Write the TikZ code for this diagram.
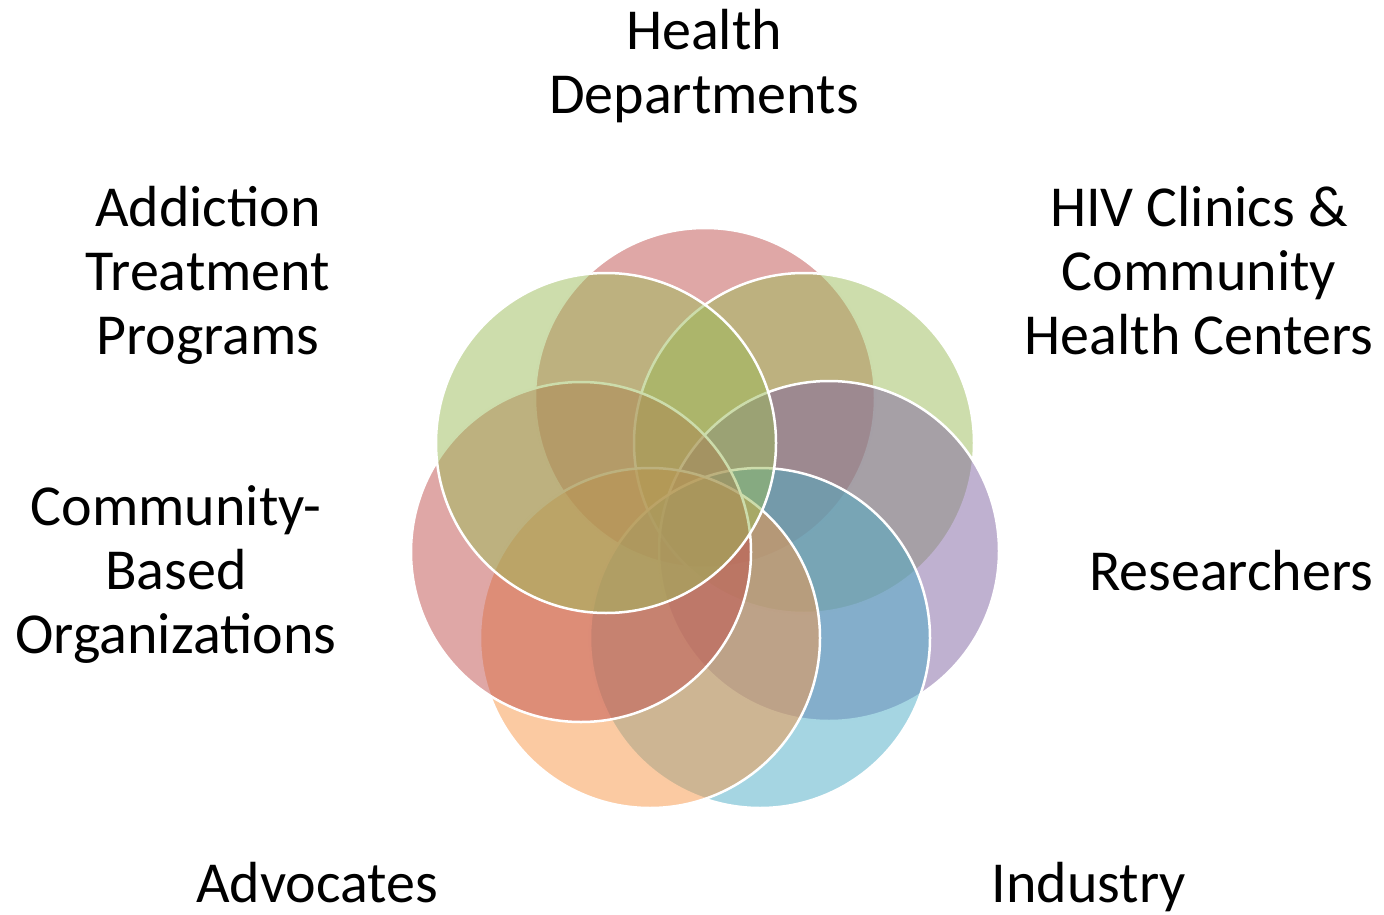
\documentclass[tikz,border=0pt]{standalone}
\usepackage{fontspec}
\setmainfont{Carlito}
\definecolor{accred}{HTML}{C0504D}
\definecolor{accgreen}{HTML}{9BBB59}
\definecolor{accpurple}{HTML}{8064A2}
\definecolor{accaqua}{HTML}{4BACC6}
\definecolor{accorange}{HTML}{F79646}
\tikzset{
  bubble/.style={fill=#1, fill opacity=0.5, draw=white, line width=2.5pt},
  lbl/.style={align=center, anchor=base, inner sep=0pt, font=\fontsize{58pt}{64pt}\selectfont}
}

\begin{document}
\begin{tikzpicture}[x=1pt,y=-1pt]
\useasboundingbox (0,0) rectangle (1384,915);
\filldraw[bubble=accred] (705,398) circle (170);
\filldraw[bubble=accgreen] (804,443) circle (170);
\filldraw[bubble=accpurple] (829,551) circle (170);
\filldraw[bubble=accaqua] (760,638) circle (170);
\filldraw[bubble=accorange] (650,638) circle (170);
\filldraw[bubble=accred] (581,552) circle (170);
\filldraw[bubble=accgreen] (606,443) circle (170);

\node[lbl] (health) at (704,114) {Health\\Departments};
\node[lbl] (hiv) at (1199,354) {HIV Clinics \&\\Community\\Health Centers};
\node[lbl] (research) at (1231,590) {Researchers};
\node[lbl] (industry) at (1089,902) {Industry};
\node[lbl] (advocates) at (317,902) {Advocates};
\node[lbl] (cbo) at (176,653) {Community-\\Based\\Organizations};
\node[lbl] (addiction) at (208,354) {Addiction\\Treatment\\Programs};
\end{tikzpicture}
\end{document}
